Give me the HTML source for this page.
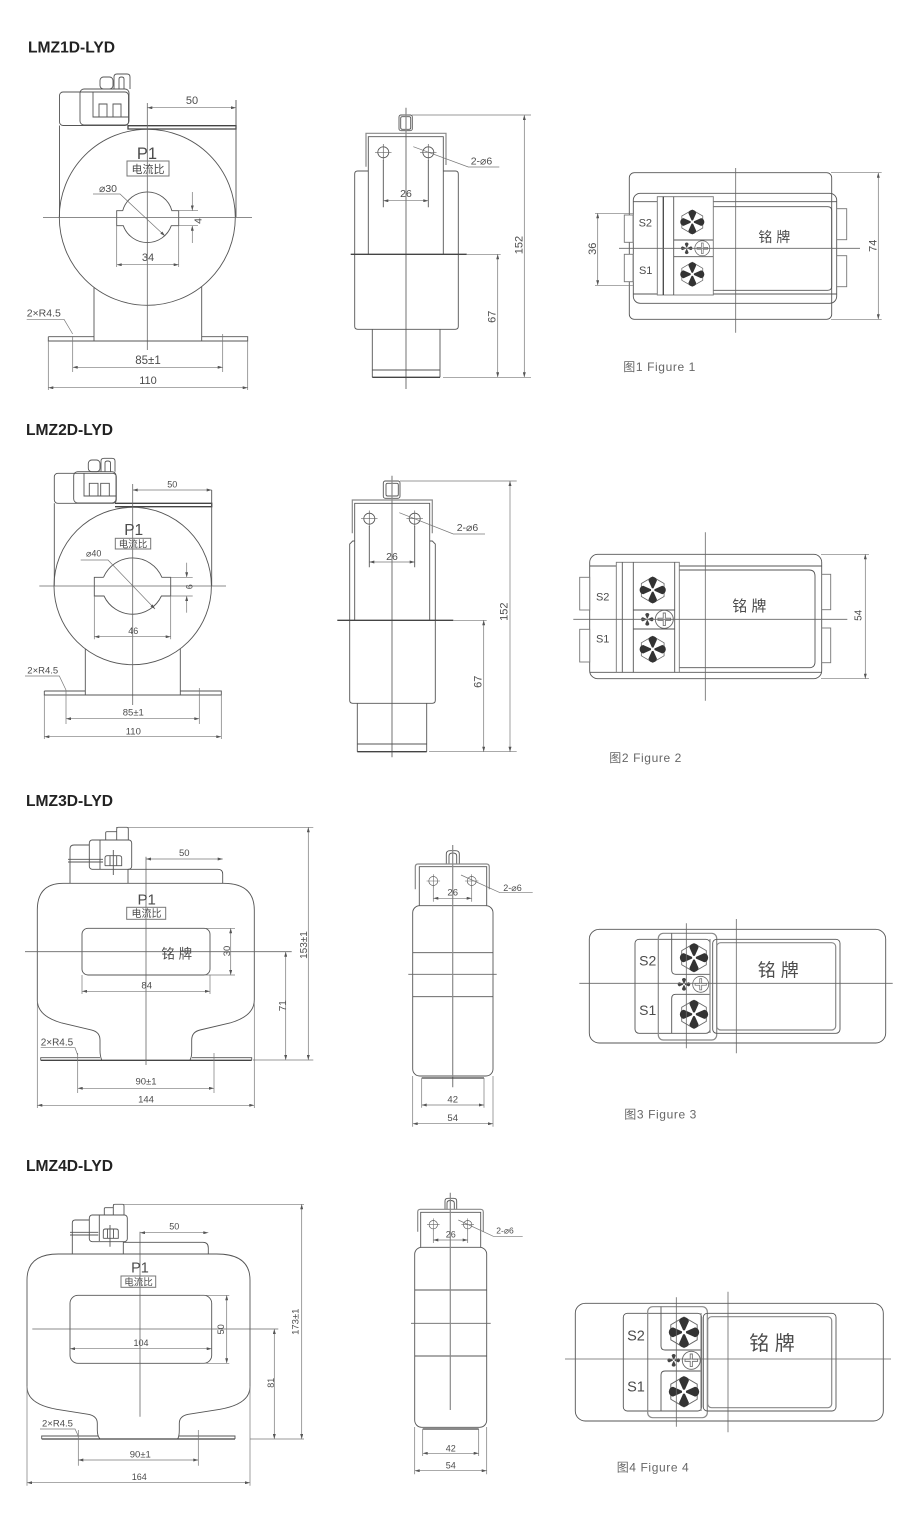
<!DOCTYPE html>
<html lang="zh"><head><meta charset="utf-8"><title>LMZ-LYD</title>
<style>
html,body{margin:0;padding:0;background:#fff}
svg{display:block;filter:blur(.3px)}
text{font-family:"Liberation Sans","Noto Sans CJK SC",sans-serif;fill:#4c4c4c}
.h{font-weight:700;font-size:15.5px;fill:#222}
.m{text-anchor:middle}
.c{font-size:12px;fill:#666;letter-spacing:.6px}
.o{fill:none;stroke:#555;stroke-width:.9}
.g{fill:none;stroke:#8a8a8a;stroke-width:1.2}
.l{fill:none;stroke:#666;stroke-width:.8}
.k{fill:none;stroke:#444;stroke-width:1.3}
.a{fill:none;stroke:#777;stroke-width:.7;marker-start:url(#ar);marker-end:url(#ar)}
.b{fill:none;stroke:#777;stroke-width:.7;marker-end:url(#ar)}
.d{fill:none;stroke:#777;stroke-width:.7}
.bx{fill:#fff;stroke:#777;stroke-width:.9}
</style></head><body>
<svg xmlns="http://www.w3.org/2000/svg" width="900" height="1528" viewBox="0 0 900 1528">
<defs>
<marker id="ar" viewBox="0 0 10 6" refX="10" refY="3" markerWidth="7" markerHeight="3" markerUnits="userSpaceOnUse" orient="auto-start-reverse"><path d="M0 0L10 3L0 6z" fill="#555"/></marker>
<g id="fan">
<path d="M0-10.5L9.1-5.2V5.2L0 10.5L-9.1 5.2V-5.2z" fill="#fff" stroke="#666" stroke-width=".65"/>
<path d="M0 0L-3.4-7.6Q-3-10.2 0-10.5Q3-10.2 3.4-7.6zM0 0L-3.4 7.6Q-3 10.2 0 10.5Q3 10.2 3.4 7.6zM0 0L-7.6-3.4Q-10.2-3-10.5 0Q-10.2 3-7.6 3.4zM0 0L7.6-3.4Q10.2-3 10.5 0Q10.2 3 7.6 3.4z" fill="#333"/>
<circle r="1.4" fill="#fff"/>
</g>
<g id="sf">
<path d="M0 0L-3.4-7.6Q-3-10.2 0-10.5Q3-10.2 3.4-7.6zM0 0L-3.4 7.6Q-3 10.2 0 10.5Q3 10.2 3.4 7.6zM0 0L-7.6-3.4Q-10.2-3-10.5 0Q-10.2 3-7.6 3.4zM0 0L7.6-3.4Q10.2-3 10.5 0Q10.2 3 7.6 3.4z" fill="#444"/>
<circle r="1.5" fill="#fff"/>
</g>
<g id="sc">
<circle r="10" fill="#fff" stroke="#666" stroke-width="1"/>
<path d="M-7-1.2H-1.2V-7H1.2V-1.2H7V1.2H1.2V7H-1.2V1.2H-7z" fill="#fff" stroke="#777" stroke-width="1"/>
</g>
<g id="hl"><circle r="10" fill="none" stroke="#555" stroke-width="1.5"/><path d="M-15 0H15M0-15V15" fill="none" stroke="#666" stroke-width="1.3"/></g>
</defs>

<text class="h" x="28" y="52.5" textLength="87" lengthAdjust="spacingAndGlyphs">LMZ1D-LYD</text>
<text class="h" x="26" y="435" textLength="87" lengthAdjust="spacingAndGlyphs">LMZ2D-LYD</text>
<text class="h" x="26" y="806" textLength="87" lengthAdjust="spacingAndGlyphs">LMZ3D-LYD</text>
<text class="h" x="26" y="1171" textLength="87" lengthAdjust="spacingAndGlyphs">LMZ4D-LYD</text>

<!-- FIG 1 FRONT -->
<rect class="o" x="59.5" y="92" width="69" height="33.5" rx="3.5"/>
<rect class="o" x="80" y="89" width="49" height="36" rx="4"/>
<path class="o" d="M93 92V117H129M99 117V104H107V117M113 117V104H121V117"/>
<rect class="o" x="100" y="77" width="13" height="12" rx="3.5"/>
<path class="o" d="M114 89V77Q114 74 117 74H127Q130 74 130 77V89M119 89V79Q119 77 121.5 77Q124 77 124 79V89"/>
<path class="k" d="M128 125.7H236V129H128z"/>
<path class="o" d="M59.5 125.5V217M236 100V217"/>
<circle class="o" cx="147.3" cy="217.3" r="88"/>
<path class="o" d="M122.7 210.7H116.7V225.7H123.3A25.5 25.5 0 0 0 171.3 225.7H178.7M122.7 210.7A25.5 25.5 0 0 1 171.9 210.7H178.7V225.7"/>
<path class="l" d="M43 217.5H252M147.3 103V350"/>
<path class="a" d="M147.3 107.7H236"/>
<text class="m" font-size="11" x="192" y="104">50</text>
<text class="m" font-size="16.5" x="147" y="159">P1</text>
<rect x="127" y="161" width="42" height="15" fill="none" stroke="#777"/>
<text class="m" font-size="11" x="148" y="173">电流比</text>
<text font-size="10.5" x="99" y="192">⌀30</text>
<path class="b" d="M93 194H120L165 236"/>
<path class="b" d="M192.3 192V210.5"/><path class="b" d="M192.3 243V225.7"/>
<path class="d" d="M178.7 210.7H198M178.7 225.7H198"/>
<text class="m" font-size="10.5" transform="rotate(-90 198 221)" x="198" y="224.5">4</text>
<path class="a" d="M116.7 264.7H178.7"/><path class="d" d="M116.7 226V267M178.7 226V267"/>
<text class="m" font-size="11" x="148" y="261">34</text>
<path class="o" d="M94 287V341M201.7 286.5V341M48.3 336.7H94M201.7 336.7H247.7V341H48.3V336.7"/>
<path class="d" d="M48.3 341V390M247.7 341V390M72.7 336V372M222.7 334V372"/>
<path class="a" d="M72.7 367.3H222.7"/><path class="a" d="M48.3 387.7H247.7"/>
<text class="m" font-size="11.5" x="148" y="364">85±1</text>
<text class="m" font-size="11" x="148" y="384">110</text>
<text font-size="10.5" x="26.7" y="316.7">2×R4.5</text>
<path class="d" d="M26.7 319.3H64L72.7 334"/>

<!-- FIG 1 SIDE -->
<rect class="o" x="399" y="115" width="13.3" height="15.7" rx="2"/>
<rect class="o" x="400.7" y="116.7" width="10" height="12.6" rx="1.5"/>
<path class="d" d="M412 115H531"/>
<path class="g" d="M406 107.7V389"/>
<path class="g" d="M366 166.7V133.3H446V165"/>
<path class="o" d="M368.3 254.3V136.7H443.3V254.3"/>
<path class="o" d="M368.3 171H357.7Q354.7 171 354.7 174V326.3Q354.7 329.3 357.7 329.3H455.3Q458.3 329.3 458.3 326.3V174Q458.3 171 455.3 171H443.3"/>
<path class="k" d="M350.7 254.3H466.7" stroke-width="1"/><path class="d" d="M466.7 254.3H500.7"/>
<use href="#hl" transform="translate(383.3 152.3) scale(.55)"/><use href="#hl" transform="translate(428.3 152.3) scale(.55)"/>
<path class="o" d="M383.3 160V207.3M428.3 160V207.3"/>
<path class="a" d="M383.3 200.7H428.3"/>
<text class="m" font-size="10.5" x="406" y="197">26</text>
<path class="d" d="M413.3 146.7L468.3 167H499.3"/>
<text font-size="10.5" x="470.7" y="164.3">2-⌀6</text>
<path class="o" d="M372.3 329.3V377.3M440 329.3V377.3M372.3 370H440"/><path class="k" d="M372.3 377.3H440"/>
<path class="d" d="M443 377.3H531"/>
<path class="a" d="M524.3 115V377.3"/><path class="a" d="M497.7 254.3V377.3"/>
<text class="m" font-size="11" transform="rotate(-90 518.3 245)" x="518.3" y="249">152</text>
<text class="m" font-size="11" transform="rotate(-90 491.7 316.7)" x="491.7" y="320.7">67</text>

<!-- FIG 1 TOP -->
<rect class="o" x="629.3" y="172.7" width="202.4" height="146.6" rx="5"/>
<rect class="o" x="633.3" y="193.3" width="203.4" height="110" rx="7"/>
<path class="o" d="M633.3 201.7H836.7M633.3 294H836.7"/>
<rect class="bx" x="624.3" y="215" width="8.7" height="27.3"/>
<rect class="bx" x="624.3" y="254.3" width="8.7" height="27.4"/>
<rect class="bx" x="836.7" y="208.7" width="10" height="31"/>
<rect class="bx" x="836.7" y="255.7" width="10" height="31"/>
<path class="o" d="M713.3 206.7H827.7Q831.7 206.7 831.7 210.7V286.3Q831.7 290.3 827.7 290.3H713.3"/>
<rect class="bx" x="657.3" y="196.7" width="56" height="98.3"/>
<path class="k" d="M663.3 196.7V295"/>
<path class="o" d="M673.7 196.7V295M673.7 240H713M673.7 256.7H713"/>
<use href="#fan" transform="translate(692.3 222) scale(1.15)"/>
<use href="#fan" transform="translate(692.3 274.3) scale(1.15)"/>
<use href="#sf" transform="translate(686.7 248.3) scale(.55)"/>
<use href="#sc" transform="translate(702.3 248.3) scale(.75)"/>
<text class="m" font-size="11" x="645.3" y="226.7">S2</text>
<text class="m" font-size="11" x="645.7" y="274">S1</text>
<text class="m" font-size="14" x="774.3" y="242" xml:space="preserve">铭 牌</text>
<path class="l" d="M619 248.3H860M735.7 168V332.7"/>
<path class="a" d="M597.7 213.3V285.3"/><path class="d" d="M595 213.3H633M595 285.3H633"/>
<text class="m" font-size="11" transform="rotate(-90 592 248.7)" x="592" y="252.7">36</text>
<path class="a" d="M878.3 172.7V319.3"/><path class="d" d="M831 172.7H881.7M831 319.3H881.7"/>
<text class="m" font-size="11" transform="rotate(-90 872.3 245.7)" x="872.3" y="249.7">74</text>
<text class="c" x="623.3" y="371">图1 Figure 1</text>

<!-- FIG 2 FRONT -->
<rect class="o" x="54.3" y="473.3" width="62" height="30" rx="3.5"/>
<rect class="o" x="73.7" y="471.7" width="42.3" height="31.3" rx="4"/>
<path class="o" d="M84 473V496H116M89.3 496V483.3H98V496M100.7 496V483.3H109.3V496"/>
<rect class="o" x="88.3" y="460" width="11.7" height="11.7" rx="3.5"/>
<path class="o" d="M101 471.7V461Q101 458.3 104 458.3H112Q115 458.3 115 461V471.7M105 471.7V463Q105 461 107.7 461Q110.5 461 110.5 463V471.7"/>
<path class="k" d="M115 503.3H211.7V506.7H115"/>
<path class="o" d="M54.3 503.3V586M211.7 490V586"/>
<circle class="o" cx="132.7" cy="586" r="78.7"/>
<path class="o" d="M103.5 577.3H94.3V596H104A31.7 31.7 0 0 0 161.4 596H170.7M103.5 577.3A31.7 31.7 0 0 1 161.9 577.3H170.7V596"/>
<path class="l" d="M39.3 586H226M132.7 484V705"/>
<path class="a" d="M132.7 490H211.7"/>
<text class="m" font-size="9" x="172.3" y="487.5">50</text>
<text class="m" font-size="15.5" x="133.7" y="535">P1</text>
<rect x="115.3" y="538.3" width="35.4" height="10.7" fill="none" stroke="#777"/>
<text class="m" font-size="9.5" x="133" y="547.5">电流比</text>
<text font-size="9" x="86" y="556.7">⌀40</text>
<path class="b" d="M80.7 560H108L155 609"/>
<path class="b" d="M186.7 562.7V577.3"/><path class="b" d="M186.7 612.7V596"/>
<path class="d" d="M170.7 577.3H192.7M170.7 596H192.7"/>
<text class="m" font-size="9" transform="rotate(-90 189 586.7)" x="189" y="590">6</text>
<path class="a" d="M94.3 636.7H170.7"/><path class="d" d="M94.3 596V639.3M170.7 596V639.3"/>
<text class="m" font-size="9" x="133.3" y="634">46</text>
<path class="o" d="M85.3 649V695M180.3 649V695M44.3 691H85.3M180.3 691H221.3V695H44.3V691"/>
<path class="d" d="M44.3 695V739M221.3 695V739M66 690V724M199.3 688V724"/>
<path class="a" d="M66 718.7H199.3"/><path class="a" d="M44.3 736.7H221.3"/>
<text class="m" font-size="9.5" x="133.3" y="715.3">85±1</text>
<text class="m" font-size="9.5" x="133.3" y="734.7">110</text>
<text font-size="9.5" x="27.3" y="673.3">2×R4.5</text>
<path class="d" d="M25 676H59.3L66 690"/>

<!-- FIG 2 SIDE -->
<rect class="o" x="383.3" y="481" width="16.7" height="17.3" rx="2"/>
<rect class="o" x="386" y="483.3" width="12.3" height="12.7" rx="1.5"/>
<path class="d" d="M400 481H516.7"/>
<path class="g" d="M392 475.7V757.3"/>
<path class="g" d="M352.3 533.3V500H432.3V533.3"/>
<path class="o" d="M354.7 620.3V503.3H429.7V620.3"/>
<path class="o" d="M354.7 541H352.7L349.7 544V700.3Q349.7 703.3 352.7 703.3H432.3Q435.3 703.3 435.3 700.3V544L432.3 541H429.7"/>
<path class="k" d="M337.3 620.3H453.3" stroke-width="1"/><path class="d" d="M453.3 620.3H486.7"/>
<use href="#hl" transform="translate(369.3 518.7) scale(.55)"/><use href="#hl" transform="translate(414.7 518.7) scale(.55)"/>
<path class="o" d="M369.3 526V567.3M414.7 526V567.3"/>
<path class="a" d="M369.3 562H414.7"/>
<text class="m" font-size="10.5" x="392" y="560">26</text>
<path class="d" d="M399.3 512.7L453.3 534H485"/>
<text font-size="10.5" x="456.7" y="531">2-⌀6</text>
<path class="o" d="M357.3 703.3V751.7M426.7 703.3V751.7M357.3 744H426.7"/><path class="k" d="M357.3 751.7H426.7"/>
<path class="d" d="M429 751.7H516.7"/>
<path class="a" d="M510 481V751.7"/><path class="a" d="M483.7 620.3V751.7"/>
<text class="m" font-size="11" transform="rotate(-90 503.3 611.7)" x="503.3" y="615.7">152</text>
<text class="m" font-size="11" transform="rotate(-90 477.7 681.7)" x="477.7" y="685.7">67</text>

<!-- FIG 2 TOP -->
<rect class="o" x="589.7" y="554.3" width="232" height="124.4" rx="8"/>
<path class="o" d="M589.7 566H821.7M589.7 672.3H821.7"/>
<rect class="bx" x="579.7" y="577.3" width="10" height="32.7"/>
<rect class="bx" x="579.7" y="629.3" width="10" height="32.7"/>
<rect class="bx" x="821.7" y="574.3" width="9" height="35.4"/>
<rect class="bx" x="821.7" y="628" width="9" height="34.7"/>
<path class="o" d="M679.3 570H809Q815 570 815 576V661.7Q815 667.7 809 667.7H679.3"/>
<rect class="bx" x="616.3" y="562.3" width="63" height="110"/>
<path class="o" d="M622.3 562.3V672.3M633.3 562.3V672.3M674.7 562.3V672.3M633.3 610H674.7M633.3 629H674.7"/>
<use href="#fan" transform="translate(652.7 590) scale(1.25)"/>
<use href="#fan" transform="translate(652.7 649.3) scale(1.25)"/>
<use href="#sf" transform="translate(647.3 619.3) scale(.6)"/>
<use href="#sc" transform="translate(664.3 619.3) scale(.9)"/>
<text class="m" font-size="11" x="602.7" y="600.7">S2</text>
<text class="m" font-size="11" x="602.7" y="642.7">S1</text>
<text class="m" font-size="15" x="749.3" y="611" xml:space="preserve">铭 牌</text>
<path class="l" d="M573.3 619.3H847.3M705.3 532.3V700.7"/>
<path class="a" d="M865.3 554.3V678.7"/><path class="d" d="M821 554.3H869M821 678.7H869"/>
<text class="m" font-size="10" transform="rotate(-90 857.7 615.3)" x="857.7" y="619">54</text>
<text class="c" x="609.3" y="762">图2 Figure 2</text>

<!-- FIG 3 FRONT -->
<path class="o" d="M101.7 1060Q100 1056 100 1050V1040Q100 1032 91.7 1030L61.7 1023Q37.3 1016 37.3 1000V910Q37.3 883.3 63.3 883.3H223.3Q254.3 883.3 254.3 910V1000Q254.3 1016 230 1023L200 1030Q191.7 1032 191.7 1040V1052Q191.7 1057 190 1060"/>
<path class="k" d="M40.7 1060.3H251.7" stroke-width="1"/>
<path class="o" d="M40.7 1060.3V1057.7H100M192 1057.7H251.7V1060.3"/>
<rect class="o" x="82" y="928.3" width="128" height="46.7" rx="6"/>
<path class="l" d="M25 951.7H291.7M146 856.7V1065"/>
<path class="a" d="M146 859H222.7"/>
<text class="m" font-size="9.5" x="184.3" y="856">50</text>
<path class="o" d="M70 883.3V849Q70 845 74 845H89.3M128 883.3V869.3M128 869.3H218Q222.7 869.3 222.7 874V883.3"/>
<rect class="o" x="89.3" y="840" width="42.4" height="29.3" rx="3"/>
<path class="o" d="M100 840V869M105.7 840V832.7Q105.7 831.7 107 831.7H116.7V840M116.7 840V829Q116.7 827.3 118.5 827.3H126.5Q128.3 827.3 128.3 829V840M105 865.7V858Q105 855.7 107.5 855.7H119Q121.7 855.7 121.7 858V865.7H105M110 856V865.7M116.7 856V865.7M113.3 850V875M68 859.3H103M68 862H103"/>
<path class="d" d="M116 827.3H313.3"/>
<text class="m" font-size="15" x="146.7" y="904.3">P1</text>
<rect x="126.7" y="907.3" width="39" height="12" fill="none" stroke="#777"/>
<text class="m" font-size="10" x="146.5" y="917">电流比</text>
<text class="m" font-size="13.5" x="176.7" y="958.3" xml:space="preserve">铭 牌</text>
<path class="a" d="M230.7 928.3V975"/><path class="d" d="M205 928.3H235M205 975H235"/>
<text class="m" font-size="9.5" transform="rotate(-90 226.7 951)" x="226.7" y="954.5">30</text>
<path class="a" d="M82 991.3H210"/><path class="d" d="M82 975V994M210 975V994"/>
<text class="m" font-size="9.5" x="146.7" y="988.3">84</text>
<path class="a" d="M308.3 827.3V1060"/><path class="a" d="M285.7 951.7V1060"/><path class="d" d="M253 1060H313.3"/>
<text class="m" font-size="10" transform="rotate(-90 303.3 945)" x="303.3" y="948.5">153±1</text>
<text class="m" font-size="10" transform="rotate(-90 282.7 1005.7)" x="282.7" y="1009">71</text>
<path class="a" d="M77.7 1088.3H214"/><path class="d" d="M77.7 1053V1093M214 1053V1093"/>
<text class="m" font-size="9.5" x="146" y="1084.3">90±1</text>
<path class="a" d="M37.3 1105.3H254.3"/><path class="d" d="M37.3 1000V1108M254.3 1000V1108"/>
<text class="m" font-size="9.5" x="146" y="1102.7">144</text>
<text font-size="10" x="40.7" y="1045.3">2×R4.5</text>
<path class="d" d="M40.7 1047.7H75L77.7 1055"/>

<!-- FIG 3 SIDE -->
<path class="o" d="M446.3 864V854Q446.3 850.7 450 850.7H455.5Q459.3 850.7 459.3 854V864M449 864V856Q449 853 452.7 853Q456.7 853 456.7 856V864"/>
<path class="g" d="M415.3 889.3V867Q415.3 864 418 864H486.5Q489.3 864 489.3 867V889.3"/>
<path class="o" d="M419.3 905.7V866.7H486.7V905.7"/>
<rect class="o" x="412.7" y="905.7" width="80.3" height="170.3" rx="7"/>
<path class="o" d="M412.7 952.7H493M412.7 996.7H493"/>
<path class="l" d="M408.3 974.3H496.7"/>
<path class="g" d="M452.7 845V1087.3"/>
<use href="#hl" transform="translate(433.3 881) scale(.45)"/><use href="#hl" transform="translate(471.7 881) scale(.45)"/>
<path class="a" d="M433.3 898.3H471.7"/><path class="d" d="M433.3 886V901.7M471.7 886V901.7"/>
<text class="m" font-size="9.5" x="452.7" y="895.3">26</text>
<path class="d" d="M461 875L500 892.7H532.7"/>
<text font-size="9" x="503.3" y="891">2-⌀6</text>
<path class="k" d="M421.7 1078H484" stroke-width="1.5"/>
<path class="d" d="M421.7 1078V1107.7M484 1078V1107.7M412.7 1076V1126.7M493 1076V1126.7"/>
<path class="a" d="M421.7 1105H484"/><path class="a" d="M412.7 1123.7H493"/>
<text class="m" font-size="9.5" x="452.7" y="1102.7">42</text>
<text class="m" font-size="9.5" x="452.7" y="1121">54</text>

<!-- FIG 3 TOP -->
<rect class="o" x="589.3" y="929.3" width="296.4" height="113.7" rx="10"/>
<rect class="o" x="635" y="939.3" width="75" height="94" rx="4"/>
<rect class="g" x="658.3" y="933.3" width="58.4" height="106.7" rx="5"/>
<path class="o" d="M671.7 933.3V970.3Q671.7 974.3 675.7 974.3H710M710 994.3H675.7Q671.7 994.3 671.7 998.3V1033.3"/>
<path class="g" d="M710 939V1033" stroke-width="1.4"/>
<rect class="o" x="712.7" y="939.3" width="127.3" height="94" rx="4"/>
<rect class="g" x="716.7" y="942.7" width="119" height="87.3" rx="4"/>
<use href="#fan" transform="translate(694 957.7) scale(1.35)"/>
<use href="#fan" transform="translate(694 1014.3) scale(1.35)"/>
<use href="#sf" transform="translate(684 984.3) scale(.6)"/>
<use href="#sc" transform="translate(700.7 984.3) scale(.8)"/>
<text class="m" font-size="14" x="647.7" y="965.7">S2</text>
<text class="m" font-size="14" x="647.7" y="1015">S1</text>
<text class="m" font-size="18" x="778.3" y="976.7" xml:space="preserve">铭 牌</text>
<path class="l" d="M579.3 983.3H892.7M686.3 923.3V1048.3M736.3 919V1053.3"/>
<text class="c" x="624.3" y="1118.3">图3 Figure 3</text>

<!-- FIG 4 FRONT -->
<path class="o" d="M100 1439Q97.3 1436 97.3 1430V1423.3Q97.3 1416 88.3 1414.3L56.7 1409.3Q27 1404 27 1386.7V1280Q27 1254 58.3 1254H216.7Q250 1254 250 1280V1386.7Q250 1404 220 1409.3L188.3 1414.3Q179.3 1416 179.3 1423.3V1430Q179.3 1436 177.7 1439"/>
<path class="k" d="M41.7 1439H235" stroke-width="1"/>
<path class="o" d="M41.7 1439V1436H98M179 1436H235V1439"/>
<rect class="o" x="70" y="1295.3" width="141.7" height="68" rx="8"/>
<path class="l" d="M32.3 1329H278.3M140 1231.7V1416.7"/>
<path class="a" d="M140 1232.7H208.3"/>
<text class="m" font-size="9" x="174.3" y="1229.7">50</text>
<path class="o" d="M72.3 1254V1223Q72.3 1220 75.3 1220H89.3M123.3 1254V1242.3M123 1242.3H203Q208.3 1242.3 208.3 1248V1254"/>
<rect class="o" x="89.3" y="1215" width="38" height="26.7" rx="3"/>
<path class="o" d="M99.3 1215V1241M104.3 1215V1208.7Q104.3 1207.7 105.5 1207.7H113.3V1215M113.3 1215V1206Q113.3 1204.3 115 1204.3H122.3Q124 1204.3 124 1206V1215M103.3 1238.3V1231Q103.3 1229 105.5 1229H116Q118.3 1229 118.3 1231V1238.3H103.3M107.5 1229V1238.3M113.5 1229V1238.3M110 1225V1246.7M70 1232.3H98.3M70 1235H98.3"/>
<path class="d" d="M113 1204.3H304"/>
<text class="m" font-size="14.5" x="140" y="1272.7">P1</text>
<rect x="121" y="1276" width="34.7" height="11.3" fill="none" stroke="#777"/>
<text class="m" font-size="9.5" x="138.5" y="1285.3">电流比</text>
<path class="a" d="M226.7 1295.3V1363.3"/><path class="d" d="M200 1295.3H229.3M200 1363.3H229.3"/>
<text class="m" font-size="9" transform="rotate(-90 221 1329.3)" x="221" y="1332.5">50</text>
<path class="a" d="M70 1348.7H211.7"/>
<text class="m" font-size="9" x="141" y="1346">104</text>
<path class="a" d="M301.7 1204.3V1439"/><path class="a" d="M274.3 1329V1439"/><path class="d" d="M250 1439H304"/>
<text class="m" font-size="9.5" transform="rotate(-90 295 1321.7)" x="295" y="1325">173±1</text>
<text class="m" font-size="9" transform="rotate(-90 270.7 1382.7)" x="270.7" y="1386">81</text>
<path class="a" d="M78.3 1460H198.3"/><path class="d" d="M78.3 1430V1465.7M198.3 1430V1465.7"/>
<text class="m" font-size="9.5" x="140.3" y="1457.3">90±1</text>
<path class="a" d="M27 1482.7H250"/><path class="d" d="M27 1386V1485.7M250 1386V1485.7"/>
<text class="m" font-size="9" x="139.3" y="1480">164</text>
<text font-size="9.5" x="42" y="1426.7">2×R4.5</text>
<path class="d" d="M40 1429H75L78.3 1436"/>

<!-- FIG 4 SIDE -->
<path class="o" d="M445 1209V1201Q445 1198.3 448 1198.3H453.7Q456.7 1198.3 456.7 1201V1209M447 1209V1203Q447 1200.5 450.3 1200.5Q454.3 1200.5 454.3 1203V1209"/>
<path class="g" d="M417.7 1231.7V1212Q417.7 1209.3 420.5 1209.3H480.5Q483.3 1209.3 483.3 1212V1231.7"/>
<path class="o" d="M420.7 1247.3V1212.3H480.7V1247.3"/>
<rect class="o" x="414.7" y="1247.3" width="72" height="180" rx="7"/>
<path class="o" d="M414.7 1290H486.7M414.7 1356H486.7"/>
<path class="l" d="M411 1323.3H490.7"/>
<path class="g" d="M450.3 1192.7V1410"/>
<use href="#hl" transform="translate(433.3 1224.7) scale(.42)"/><use href="#hl" transform="translate(467.7 1224.7) scale(.42)"/>
<path class="a" d="M433.3 1240H467.7"/><path class="d" d="M433.3 1229V1243M467.7 1229V1243"/>
<text class="m" font-size="9" x="450.7" y="1237.7">26</text>
<path class="d" d="M458.3 1220L493.3 1236.3H522.7"/>
<text font-size="8.5" x="496.3" y="1233.7">2-⌀6</text>
<path class="k" d="M422.7 1429H478.7" stroke-width="1.5"/>
<path class="d" d="M422.7 1429V1456M478.7 1429V1456M414.7 1427V1474.3M486.7 1427V1474.3"/>
<path class="a" d="M422.7 1453.3H478.7"/><path class="a" d="M414.7 1470.7H486.7"/>
<text class="m" font-size="9" x="450.7" y="1451.7">42</text>
<text class="m" font-size="9" x="450.7" y="1468.3">54</text>

<!-- FIG 4 TOP -->
<rect class="o" x="575.3" y="1303.3" width="308" height="117.7" rx="10"/>
<rect class="o" x="623.3" y="1313.3" width="78.4" height="97.7" rx="4"/>
<rect class="g" x="647.7" y="1306.7" width="59.6" height="111" rx="5"/>
<path class="o" d="M661 1306.7V1346Q661 1350 665 1350H701M701 1371H665Q661 1371 661 1375V1411"/>
<path class="g" d="M701 1313V1411" stroke-width="1.4"/>
<rect class="o" x="703.3" y="1313.3" width="132.7" height="97.7" rx="4"/>
<rect class="g" x="707.7" y="1316.7" width="124" height="91" rx="4"/>
<use href="#fan" transform="translate(684 1332.3) scale(1.45)"/>
<use href="#fan" transform="translate(684 1391.7) scale(1.45)"/>
<use href="#sf" transform="translate(673.7 1360.3) scale(.6)"/>
<use href="#sc" transform="translate(691.3 1360.3) scale(.9)"/>
<text class="m" font-size="14.5" x="636" y="1340.3">S2</text>
<text class="m" font-size="14.5" x="636" y="1391.7">S1</text>
<text class="m" font-size="20" x="772" y="1350" xml:space="preserve">铭 牌</text>
<path class="l" d="M565 1359H891M676.3 1297.3V1426.7M728 1291.7V1432.3"/>
<text class="c" x="616.7" y="1471.7">图4 Figure 4</text>
</svg>
</body></html>
